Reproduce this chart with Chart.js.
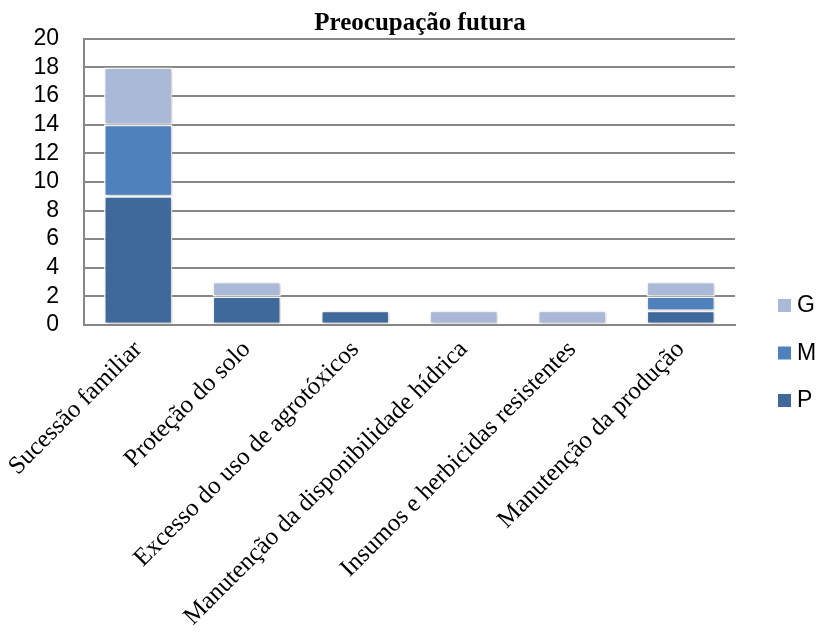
<!DOCTYPE html>
<html>
<head>
<meta charset="utf-8">
<script src="https://cdn.jsdelivr.net/npm/chart.js@4/dist/chart.umd.min.js"></script>
<style>
  html, body { margin: 0; padding: 0; background: #fff; }
  #wrap { width: 820px; height: 634px; }
</style>
</head>
<body>
<div id="wrap"><canvas id="chart" width="820" height="634"></canvas></div>
<script>
// dados do gráfico
const categorias = [
  'Sucessão familiar',
  'Proteção do solo',
  'Excesso do uso de agrotóxicos',
  'Manutenção da disponibilidade hídrica',
  'Insumos e herbicidas resistentes',
  'Manutenção da produção',
];
const serieP = [9, 2, 1, 0, 0, 1];
const serieM = [5, 0, 0, 0, 0, 1];
const serieG = [4, 1, 0, 1, 1, 1];
const nomesSeries = ['P', 'M', 'G'];
const cores = ['#3F699B', '#4F81BD', '#AAB9D7'];
const titulo = 'Preocupação futura';

// título centrado na largura total (o Chart.js centraria só entre os paddings)
const tituloCentro = {
  id: 'tituloCentro',
  afterDraw(chart) {
    const { ctx } = chart;
    ctx.save();
    ctx.font = 'bold 25px "Liberation Serif", "Times New Roman", serif';
    ctx.fillStyle = '#000';
    ctx.textAlign = 'center';
    ctx.textBaseline = 'alphabetic';
    ctx.fillText(titulo, chart.width / 2 + 10, 30);
    ctx.restore();
  },
};

// legenda desenhada à direita (ordem invertida: G, M, P)
const legendaDireita = {
  id: 'legendaDireita',
  afterDraw(chart) {
    const { ctx, chartArea } = chart;
    const x = chartArea.right + 43;
    const y0 = chartArea.bottom - 20;
    ctx.save();
    ctx.font = '23px "Liberation Sans", Arial, sans-serif';
    ctx.textBaseline = 'middle';
    chart.data.datasets.slice().reverse().forEach((ds, i) => {
      const y = y0 + i * 47.5;
      ctx.fillStyle = ds.backgroundColor;
      ctx.fillRect(x, y - 6, 13, 13);
      ctx.fillStyle = '#000';
      ctx.fillText(ds.label, x + 19, y + 1);
    });
    ctx.restore();
  },
};

// sombra leve nas barras
const sombraBarras = {
  id: 'sombraBarras',
  beforeDatasetsDraw(chart) {
    const { ctx } = chart;
    ctx.save();
    ctx.shadowColor = 'rgba(0,0,0,0.25)';
    ctx.shadowBlur = 4;
    ctx.shadowOffsetX = 1;
    ctx.shadowOffsetY = 1;
  },
  afterDatasetsDraw(chart) {
    chart.ctx.restore();
  },
};

const dados = {
  labels: categorias,
  datasets: [serieP, serieM, serieG].map((valores, i) => ({
    label: nomesSeries[i],
    data: valores,
    backgroundColor: cores[i],
    borderColor: '#ffffff',
    borderWidth: 1.5,
    borderSkipped: false,
    categoryPercentage: 1,
    barPercentage: 0.63,
  })),
};

const chart = new Chart(document.getElementById('chart'), {
  type: 'bar',
  data: dados,
  options: {
    responsive: false,
    animation: false,
    layout: { padding: { left: 10, right: 85, top: 37, bottom: 0 } },
    plugins: {
      legend: { display: false },
      tooltip: { enabled: false },
      title: { display: false },
    },
    scales: {
      x: {
        stacked: true,
        grid: { display: false },
        border: { display: true, color: '#878787', width: 2 },
        ticks: {
          color: '#000',
          font: { family: '"Liberation Serif", "Times New Roman", serif', size: 25 },
          minRotation: 45,
          maxRotation: 45,
          padding: 2,
          autoSkip: false,
        },
        afterFit(scale) { scale.height = 634 - 325; },
      },
      y: {
        stacked: true,
        min: 0,
        max: 20,
        grid: { color: '#878787', lineWidth: 2, drawTicks: false },
        border: { display: true, color: '#878787', width: 2 },
        ticks: {
          stepSize: 2,
          autoSkip: false,
          color: '#000',
          font: { family: '"Liberation Sans", Arial, sans-serif', size: 23 },
          padding: 25,
        },
        afterFit(scale) { scale.width = 74; },
      },
    },
  },
  plugins: [sombraBarras, legendaDireita, tituloCentro],
});
</script>
</body>
</html>
